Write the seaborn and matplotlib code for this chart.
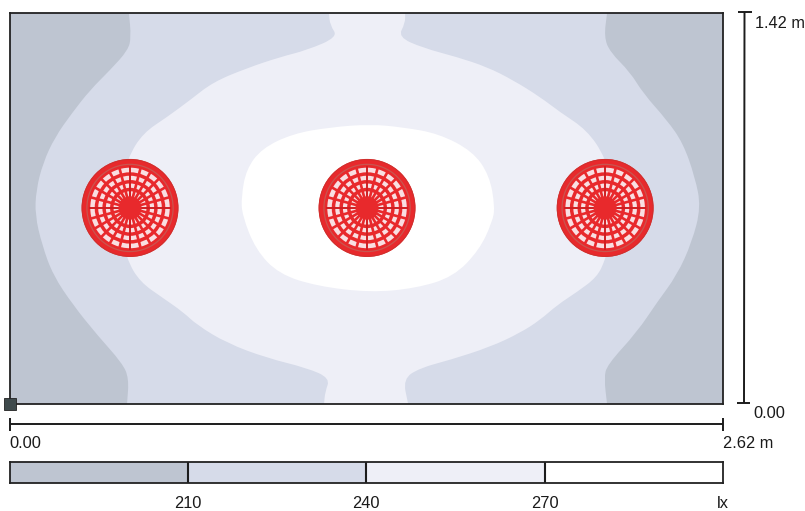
import numpy as np
import matplotlib
matplotlib.use("Agg")
import matplotlib.pyplot as plt
from matplotlib.colors import ListedColormap
from matplotlib.lines import Line2D
from matplotlib.patches import Circle, PathPatch, Rectangle
from matplotlib.path import Path
import seaborn as sns

# Room size (m)
room_w = 2.62
room_h = 1.42

# Illuminance classes (lx)
class_ticks = [210, 240, 270]
class_values = [195, 225, 255, 285]
class_colors = ["#bec5d1", "#d6dbe9", "#eeeff7", "#ffffff"]

# Isolux boundaries (m)
left210_x = [0.000, 0.437, 0.445, 0.434, 0.368, 0.294, 0.228, 0.165, 0.121, 0.096, 0.092, 0.118, 0.158, 0.232, 0.320, 0.412, 0.437, 0.430, 0.000]
left210_y = [1.420, 1.420, 1.333, 1.285, 1.213, 1.140, 1.057, 0.969, 0.875, 0.777, 0.686, 0.577, 0.468, 0.359, 0.251, 0.149, 0.094, 0.000, 0.000]
right210_x = [2.620, 2.194, 2.183, 2.205, 2.279, 2.326, 2.414, 2.473, 2.517, 2.539, 2.506, 2.451, 2.378, 2.304, 2.194, 2.183, 2.194, 2.620]
right210_y = [1.420, 1.420, 1.333, 1.278, 1.205, 1.129, 1.031, 0.948, 0.824, 0.715, 0.588, 0.468, 0.370, 0.261, 0.142, 0.094, 0.000, 0.000]
iso240_x = [1.172, 1.176, 1.205, 1.091, 0.992, 0.871, 0.746, 0.662, 0.577, 0.489, 0.434, 0.375, 0.430, 0.478, 0.562, 0.636, 0.687, 0.797, 0.944, 1.091, 1.176, 1.158, 1.154,
            1.463, 1.444, 1.507, 1.617, 1.764, 1.874, 1.948, 2.010, 2.084, 2.157, 2.187, 2.249, 2.187, 2.120, 2.021, 1.948, 1.849, 1.753, 1.643, 1.518, 1.426, 1.452, 1.452]
iso240_y = [1.420, 1.376, 1.333, 1.285, 1.260, 1.220, 1.169, 1.104, 1.042, 0.984, 0.897, 0.712, 0.523, 0.443, 0.385, 0.334, 0.287, 0.221, 0.167, 0.131, 0.094, 0.044, 0.000,
            0.000, 0.091, 0.131, 0.160, 0.207, 0.258, 0.305, 0.359, 0.407, 0.461, 0.523, 0.712, 0.897, 0.995, 1.060, 1.115, 1.176, 1.224, 1.260, 1.293, 1.333, 1.383, 1.420]
iso270_x = [1.323, 1.176, 1.040, 0.925, 0.868, 0.850, 0.853, 0.903, 0.988, 1.128, 1.323, 1.490, 1.630, 1.725, 1.772, 1.782, 1.762, 1.700, 1.575, 1.444]
iso270_y = [1.016, 1.005, 0.982, 0.928, 0.852, 0.752, 0.686, 0.560, 0.472, 0.428, 0.405, 0.420, 0.462, 0.560, 0.661, 0.715, 0.830, 0.918, 0.982, 1.005]

# Luminaires
lamp_x = [0.441, 1.312, 2.187]
lamp_y = [0.712, 0.712, 0.712]
lamp_r = 0.176

sns.set_theme(style="white")
plt.rcParams["font.family"] = ["Liberation Sans", "DejaVu Sans"]

W, H = 805, 511
fig = plt.figure(figsize=(W / 100, H / 100), dpi=100, facecolor="white")


def box(x0, y0, x1, y1):
    return [x0 / W, 1 - y1 / H, (x1 - x0) / W, (y1 - y0) / H]


def smooth_region(ax, xs, ys, color, zorder):
    """Closed region with curved edges; points on the room's edge stay sharp."""
    pts = []
    for x, y in zip(xs, ys):
        pts.append((x, y))
        if x in (0.0, room_w) or y in (0.0, room_h):
            pts.append((x, y))
    pts = np.array(pts)
    nxt = np.roll(pts, -1, axis=0)
    mids = (pts + nxt) / 2
    verts = [tuple(mids[-1])]
    codes = [Path.MOVETO]
    for p, m in zip(pts, mids):
        verts += [tuple(p), tuple(m)]
        codes += [Path.CURVE3, Path.CURVE3]
    ax.add_patch(PathPatch(Path(verts, codes), fc=color, ec="none", zorder=zorder))


ax = fig.add_axes(box(10, 13, 723, 404))
ax.set_xlim(0, room_w)
ax.set_ylim(0, room_h)
ax.set_xticks([])
ax.set_yticks([])
for s in ax.spines.values():
    s.set_linewidth(1.3)
    s.set_color("#222222")
    s.set_zorder(20)

ax.add_patch(Rectangle((0, 0), room_w, room_h, fc=class_colors[1], ec="none", zorder=1))
smooth_region(ax, left210_x, left210_y, class_colors[0], 2)
smooth_region(ax, right210_x, right210_y, class_colors[0], 2)
smooth_region(ax, iso240_x, iso240_y, class_colors[2], 3)
smooth_region(ax, iso270_x, iso270_y, class_colors[3], 4)

red = "#e8292c"
for cx, cy in zip(lamp_x, lamp_y):
    ax.add_patch(Circle((cx, cy), lamp_r * 0.88, fc="#f9dfe2", ec="none", zorder=5))
    ax.add_patch(Circle((cx, cy), lamp_r * 0.92, fc="none", ec=red, lw=6.2, zorder=6))
    for k in (0.38, 0.54, 0.70):
        ax.add_patch(Circle((cx, cy), lamp_r * k, fc="none", ec=red, lw=2.5, zorder=6))
    ax.add_patch(Circle((cx, cy), lamp_r * 0.90, fc="none", ec="#c9554f", lw=0.9, zorder=7))
    ax.add_patch(Circle((cx, cy), lamp_r * 0.24, fc=red, ec="none", zorder=7))
    for a in np.deg2rad(np.arange(0, 360, 15)):
        strong = np.isclose(np.mod(a, np.pi / 2), 0) or np.isclose(np.mod(a, np.pi / 2), np.pi / 2)
        c = "#cf1f22" if strong else red
        ax.plot([cx, cx + lamp_r * 0.86 * np.cos(a)], [cy, cy + lamp_r * 0.86 * np.sin(a)],
                color=c, lw=1.4 if strong else 1.9, solid_capstyle="butt", zorder=6)
    ax.add_patch(Circle((cx, cy), lamp_r, fc="none", ec="#d0302e", lw=0.8, zorder=8))

# Origin marker
fig.add_artist(Rectangle((4 / W, 1 - 410 / H), 12 / W, 12 / H, transform=fig.transFigure,
                         fc="#3f4a4c", ec="#222222", lw=0.6, zorder=30))


def seg(x0, y0, x1, y1, lw=1.4):
    fig.add_artist(Line2D([x0 / W, x1 / W], [1 - y0 / H, 1 - y1 / H], color="#1c1c1c", lw=lw,
                          transform=fig.transFigure, solid_capstyle="butt"))


# Vertical dimension line
seg(744.5, 12, 744, 403)
seg(738, 12, 752, 12)
seg(737, 403, 750, 403)
# Horizontal dimension line
seg(10, 424, 723, 424)
seg(10, 418, 10, 431)
seg(723, 418, 723, 431)

ts = 11.8
tc = "#1a1a1a"
fig.text(755 / W, 1 - 23.5 / H, f"{room_h:.2f} m", fontsize=ts, color=tc, ha="left", va="center")
fig.text(753 / W, 1 - 413 / H, "0.00", fontsize=ts, color=tc, ha="left", va="center")
fig.text(9.5 / W, 1 - 443 / H, "0.00", fontsize=ts, color=tc, ha="left", va="center")
fig.text(723 / W, 1 - 443 / H, f"{room_w:.2f} m", fontsize=ts, color=tc, ha="left", va="center")

# Colour key
leg = fig.add_axes(box(9.5, 462, 723, 482.5))
sns.heatmap(np.array([class_values]), ax=leg, cmap=ListedColormap(class_colors), cbar=False,
            linewidths=0, xticklabels=False, yticklabels=False)
for s in leg.spines.values():
    s.set_visible(True)
    s.set_linewidth(1.3)
    s.set_color("#222222")
for i in range(1, len(class_values)):
    leg.axvline(i, color="#1c1c1c", lw=1.5)
leg.set_xticks([1, 2, 3, 4])
leg.set_xticklabels([str(v) for v in class_ticks] + ["lx"], fontsize=ts, color=tc)
leg.tick_params(axis="x", length=0, pad=10, bottom=True)

fig.savefig("out.png", dpi=100, facecolor="white")
